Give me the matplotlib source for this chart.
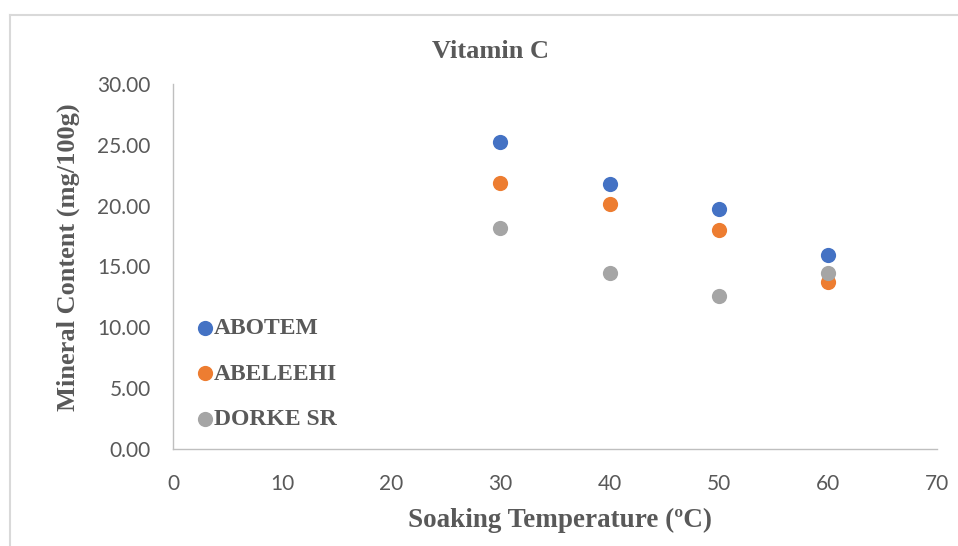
import matplotlib
matplotlib.use("Agg")
import matplotlib.pyplot as plt
from matplotlib.lines import Line2D

temps = [30, 40, 50, 60]
series_names = ["ABOTEM", "ABELEEHI", "DORKE SR"]
abotem = [25.23, 21.75, 19.72, 15.94]
abeleehi = [21.83, 20.13, 18.00, 13.75]
dorke_sr = [18.16, 14.44, 12.57, 14.49]
colors = ["#4472C4", "#ED7D31", "#A5A5A5"]
y_ticks = [0, 5, 10, 15, 20, 25, 30]
x_ticks = [0, 10, 20, 30, 40, 50, 60, 70]

txt = "#595959"
serif = ["Liberation Serif", "DejaVu Serif"]
sans = ["Lato", "DejaVu Sans"]

fig = plt.figure(figsize=(9.58, 5.46), dpi=100)
ax = fig.add_axes([173/958, 1-449/546, (937-173)/958, (449-84)/546])

for name, vals, c in zip(series_names, [abotem, abeleehi, dorke_sr], colors):
    ax.scatter(temps, vals, s=120, color=c, label=name, zorder=3, linewidths=0)

ax.set_xlim(0, 70)
ax.set_ylim(0, 30)
ax.set_xticks(x_ticks)
ax.set_yticks(y_ticks)
ax.set_xticklabels([str(v) for v in x_ticks], fontfamily=sans, fontsize=15, color=txt)
ax.set_yticklabels([f"{v:.2f}" for v in y_ticks], fontfamily=sans, fontsize=15, color=txt)
ax.tick_params(axis="y", length=0, pad=16)
ax.tick_params(axis="x", length=0, pad=18)
for s in ["top", "right"]:
    ax.spines[s].set_visible(False)
for s in ["left", "bottom"]:
    ax.spines[s].set_color("#BFBFBF")
    ax.spines[s].set_linewidth(1.0)

fig.text(490/958, 1-52/546, "Vitamin C", fontfamily=serif, fontsize=19, fontweight="bold",
         color=txt, ha="center", va="center")
ax.set_xlabel("Soaking Temperature (\u00baC)", fontfamily=serif, fontsize=19.5, fontweight="bold", color=txt,
              va="center", ha="center")
ax.xaxis.set_label_coords((560-173)/764, (449-520)/365)
ax.set_ylabel("Mineral Content (mg/100g)", fontfamily=serif, fontsize=19, fontweight="bold", color=txt,
              va="center", ha="center")
ax.yaxis.set_label_coords((68-173)/764, (449-257)/365)

leg = ax.legend(loc="upper left", bbox_to_anchor=(0.012, 0.385), frameon=False,
                prop={"family": serif, "size": 17, "weight": "bold"},
                handletextpad=-0.15, labelspacing=1.0, handlelength=1.1,
                borderaxespad=0, scatterpoints=1)
for t in leg.get_texts():
    t.set_color(txt)

# chart-area border (left and top visible)
fig.add_artist(Line2D([10/958, 10/958], [0, 1-15/546], transform=fig.transFigure, color="#D9D9D9", lw=1.5))
fig.add_artist(Line2D([10/958, 1], [1-15/546, 1-15/546], transform=fig.transFigure, color="#D9D9D9", lw=1.5))

fig.savefig("out.png", dpi=100)
